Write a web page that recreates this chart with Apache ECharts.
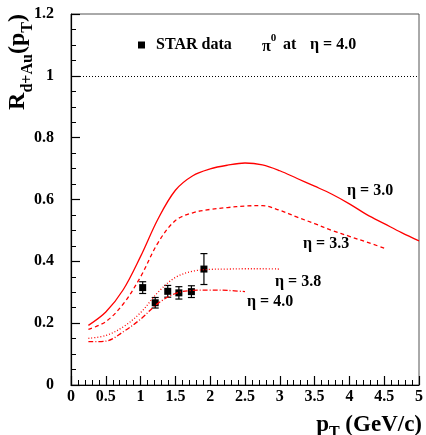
<!DOCTYPE html>
<html><head><meta charset="utf-8">
<script src="https://cdn.jsdelivr.net/npm/echarts@6/dist/echarts.min.js"></script>
<style>html,body{margin:0;padding:0;background:#fff}#c{width:426px;height:435px}</style>
</head><body><div id="c"></div>
<script>
// ---- data ----
const ptGrid = [0.25,0.5,0.75,1.0,1.25,1.5,1.75,2.0,2.25,2.5,2.75,3.0,3.25,3.5,3.75,4.0,4.25,4.5,4.75,5.0];
const eta30 = [0.193,0.236,0.308,0.416,0.537,0.630,0.677,0.699,0.711,0.718,0.712,0.693,0.668,0.643,0.617,0.586,0.551,0.522,0.493,0.466];
const eta33 = [0.180,0.205,0.262,0.350,0.460,0.532,0.557,0.568,0.574,0.579,0.580,0.565,0.543,0.522,0.500,0.481,0.462,0.443];
const eta38 = [0.151,0.160,0.188,0.234,0.300,0.348,0.368,0.374,0.375,0.376,0.376,0.375];
const eta40 = [0.140,0.142,0.172,0.213,0.264,0.296,0.306,0.307,0.306,0.302];
const starPt = [1.03,1.21,1.39,1.55,1.73,1.91];
const starR = [0.315,0.266,0.303,0.298,0.302,0.375];
const starErr = [0.019,0.017,0.019,0.020,0.019,0.050];
const refLevel = 1;
const xTicks = {min:0, max:5, interval:0.5};
const yTicks = {min:0, max:1.2, interval:0.2};

const F = "'Liberation Serif','Times New Roman',serif";
const pair = ys => ys.map((v,i)=>[ptGrid[i], v]);
const starData = starPt.map((x,i)=>[x, starR[i], starErr[i]]);

const chart = echarts.init(document.getElementById('c'), null, {renderer:'canvas'});
const lineBase = (name, ys, type) => ({
  name, type:'line', data:pair(ys), smooth:0.35, symbol:'none', z:3,
  lineStyle:{color:'#ff0000', width:1.3, type}
});
const txt = (x, y, text) => ({type:'text', x, y, style:{text, fontFamily:F, fontSize:16, fontWeight:'bold', fill:'#000', verticalAlign:'middle'}});
chart.setOption({
  animation:false,
  backgroundColor:'#fff',
  grid:{left:71, right:4, top:14, bottom:50, show:true, borderColor:'#555', borderWidth:1},
  legend:{
    data:[{name:'STAR data', icon:'rect'}], left:138, top:37, padding:0,
    itemWidth:7, itemHeight:7,
    textStyle:{fontFamily:F, fontSize:16, fontWeight:'bold', color:'#000', padding:[0,0,0,6]}
  },
  xAxis:{
    type:'value', min:xTicks.min, max:xTicks.max, interval:xTicks.interval,
    axisLine:{show:true, onZero:false, lineStyle:{color:'#000', width:1.2}},
    axisTick:{inside:true, length:9, lineStyle:{color:'#000', width:1.2}},
    minorTick:{show:true, splitNumber:5, length:5, lineStyle:{color:'#000', width:1}},
    splitLine:{show:false},
    axisLabel:{margin:4, fontFamily:F, fontSize:16, fontWeight:'bold', color:'#000'}
  },
  yAxis:{
    type:'value', min:yTicks.min, max:yTicks.max, interval:yTicks.interval,
    axisLine:{show:true, onZero:false, lineStyle:{color:'#000', width:1.2}},
    axisTick:{inside:true, length:9, lineStyle:{color:'#000', width:1.2}},
    minorTick:{show:true, splitNumber:4, length:5, lineStyle:{color:'#000', width:1}},
    splitLine:{show:false},
    axisLabel:{margin:17, fontFamily:F, fontSize:16, fontWeight:'bold', color:'#000'}
  },
  series:[
    {
      name:'ref', type:'line', data:[], silent:true,
      markLine:{silent:true, symbol:'none', label:{show:false},
        lineStyle:{color:'#000', type:[1,2], width:1}, data:[{yAxis:refLevel}]}
    },
    {
      name:'STAR err', type:'custom', data:starData, z:2,
      renderItem:(params, api) => {
        const x = api.value(0), y = api.value(1), e = api.value(2);
        const t = api.coord([x, y+e]), b = api.coord([x, y-e]);
        const hw = 3.5, st = {stroke:'#000', lineWidth:1.2};
        return {type:'group', children:[
          {type:'line', shape:{x1:t[0], y1:t[1], x2:b[0], y2:b[1]}, style:st},
          {type:'line', shape:{x1:t[0]-hw, y1:t[1], x2:t[0]+hw, y2:t[1]}, style:st},
          {type:'line', shape:{x1:b[0]-hw, y1:b[1], x2:b[0]+hw, y2:b[1]}, style:st}
        ]};
      }
    },
    {
      name:'STAR data', type:'scatter', data:starData, symbol:'rect', symbolSize:7, z:2,
      itemStyle:{color:'#000', opacity:1}
    },
    lineBase('η = 3.0', eta30, 'solid'),
    lineBase('η = 3.3', eta33, [4,3]),
    lineBase('η = 3.8', eta38, [1,2]),
    lineBase('η = 4.0', eta40, [5,2,1,2])
  ],
  graphic:[
    {type:'text', x:262, y:44, style:{text:'{m|π}{u|0}', verticalAlign:'middle',
      rich:{m:{fontFamily:F, fontSize:16, fontWeight:'bold', lineHeight:22, verticalAlign:'bottom', fill:'#000'},
            u:{fontFamily:F, fontSize:11, fontWeight:'bold', lineHeight:12, verticalAlign:'top', fill:'#000'}}}},
    txt(283, 45, 'at'),
    txt(310, 45, 'η = 4.0'),
    txt(347, 191, 'η = 3.0'),
    txt(303, 244, 'η = 3.3'),
    txt(275, 282, 'η = 3.8'),
    txt(247, 302, 'η = 4.0'),
    {type:'text', x:21, y:62, rotation:Math.PI/2, style:{text:'{m|R}{s|d+Au}{m|(p}{s|T}{m|)}', align:'center', verticalAlign:'middle',
      rich:{m:{fontFamily:F, fontSize:24, fontWeight:'bold', lineHeight:28, verticalAlign:'top', fill:'#000'},
            s:{fontFamily:F, fontSize:16, fontWeight:'bold', lineHeight:30, verticalAlign:'bottom', fill:'#000'}}}},
    {type:'text', x:422, y:427, style:{text:'{m|p}{s|T}{m| (GeV/c)}', align:'right', verticalAlign:'middle',
      rich:{m:{fontFamily:F, fontSize:23, fontWeight:'bold', lineHeight:26, verticalAlign:'top', fill:'#000'},
            s:{fontFamily:F, fontSize:16, fontWeight:'bold', lineHeight:27, verticalAlign:'bottom', fill:'#000'}}}}
  ]
});
</script></body></html>
